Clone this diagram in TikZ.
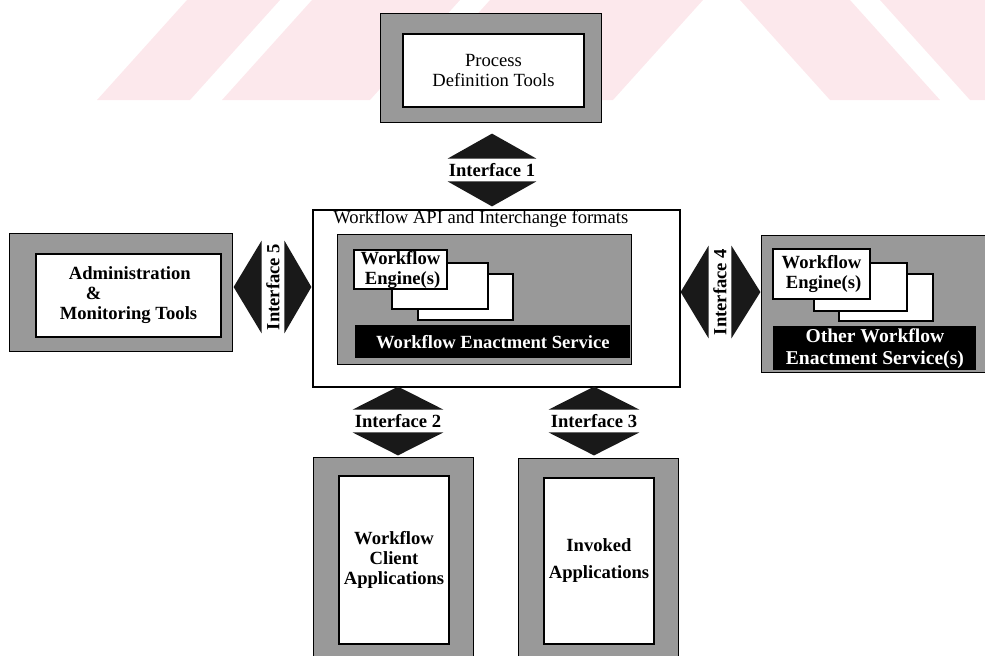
\documentclass[tikz,border=0pt]{standalone}
\usepackage{fontspec}
\setmainfont{Liberation Serif}
\definecolor{wmpink}{RGB}{252,232,236}

\begin{document}
\begin{tikzpicture}[x=0.5pt, y=-0.5pt, inner sep=0pt,
    font=\fontsize{9.3}{10}\selectfont\bfseries,
    frame/.style={draw, fill=black!40, line width=0.6pt, anchor=north west},
    panel/.style={draw, fill=white, line width=1pt, anchor=north west, align=center},
    bar/.style={fill=black, text=white, anchor=north west, align=center},
    iface/.style={minimum width=44pt, minimum height=11pt},
    tri/.style={fill=black!90}]
        \useasboundingbox (0,0) rectangle (985,655);

        % faint stripes behind the top
        \fill[wmpink] (187,0) -- (280,0) -- (190,100) -- (97,100) -- cycle;
        \fill[wmpink] (312,0) -- (460,0) -- (370,100) -- (222,100) -- cycle;
        \fill[wmpink] (490,0) -- (703,0) -- (613,100) -- (400,100) -- cycle;
        \fill[wmpink] (740,0) -- (850,0) -- (940,100) -- (830,100) -- cycle;
        \fill[wmpink] (880,0) -- (985,0) -- (985,100) -- (970,100) -- cycle;

        % process definition
        \node[frame, minimum width=110.5pt, minimum height=54.5pt] (pdtframe) at (380,13) {};
        \node[panel, minimum width=90.5pt, minimum height=36.5pt, font=\fontsize{9.3}{10}\selectfont] (pdt) at (402,33) {Process\\Definition Tools};

        \node[iface] (i1) at (492,170) {Interface 1};
        \fill[tri] (i1.north west) -- (i1.north east) -- ([yshift=12.5pt]i1.north) -- cycle;
        \fill[tri] (i1.south west) -- (i1.south east) -- ([yshift=-12.5pt]i1.south) -- cycle;

        % enactment service
        \node[draw, line width=1pt, anchor=north west, minimum width=183.5pt, minimum height=88.5pt] (api) at (312,209) {};
        \node[anchor=west, font=\fontsize{9.3}{10}\selectfont] (apititle) at (333,219) {Workflow API and Interchange formats};
        \node[frame, minimum width=147pt, minimum height=65pt] (wes) at (337,234) {};
        \node[panel, minimum width=47.5pt, minimum height=23pt] (eng3) at (417,273) {};
        \node[panel, minimum width=48pt, minimum height=23pt] (eng2) at (391,262) {};
        \node[panel, minimum width=46.5pt, minimum height=19.5pt, align=right] (eng1) at (353,249) {Workflow\\Engine(s)};
        \node[bar, minimum width=137.5pt, minimum height=16.5pt] (wesbar) at (355,325) {Workflow Enactment Service};

        % administration
        \node[frame, minimum width=111.5pt, minimum height=59pt] (admframe) at (9,233) {};
        \node[panel, minimum width=92.5pt, minimum height=41.5pt, align=left] (adm) at (35,253) {\hspace*{4.5pt}Administration\\\hspace*{13pt}\&\\Monitoring Tools};

        \node[iface, rotate=90, minimum width=46pt] (i5) at (273,287) {Interface 5};
        \fill[tri] (i5.north west) -- (i5.north east) -- ([xshift=-14pt]i5.north) -- cycle;
        \fill[tri] (i5.south west) -- (i5.south east) -- ([xshift=13.5pt]i5.south) -- cycle;

        % other enactment service
        \node[frame, minimum width=112pt, minimum height=68.5pt] (oframe) at (761,235) {};
        \node[panel, minimum width=47pt, minimum height=23.5pt] (oeng3) at (838,273) {};
        \node[panel, minimum width=46.5pt, minimum height=24pt] (oeng2) at (813,262) {};
        \node[panel, minimum width=48.5pt, minimum height=25pt, align=right] (oeng1) at (772,248) {Workflow\\Engine(s)};
        \node[bar, minimum width=101.5pt, minimum height=22pt, font=\fontsize{9.8}{11}\selectfont\bfseries] (obar) at (773,326) {Other Workflow\\Enactment Service(s)};

        \node[iface, rotate=90, minimum width=46pt] (i4) at (720,292) {Interface 4};
        \fill[tri] (i4.north west) -- (i4.north east) -- ([xshift=-14pt]i4.north) -- cycle;
        \fill[tri] (i4.south west) -- (i4.south east) -- ([xshift=14.5pt]i4.south) -- cycle;

        % applications
        \node[iface, minimum width=45pt] (i2) at (398,421) {Interface 2};
        \fill[tri] (i2.north west) -- (i2.north east) -- ([yshift=11.5pt]i2.north) -- cycle;
        \fill[tri] (i2.south west) -- (i2.south east) -- ([yshift=-11.5pt]i2.south) -- cycle;
        \node[iface, minimum width=45pt] (i3) at (594,421) {Interface 3};
        \fill[tri] (i3.north west) -- (i3.north east) -- ([yshift=11.5pt]i3.north) -- cycle;
        \fill[tri] (i3.south west) -- (i3.south east) -- ([yshift=-11.5pt]i3.south) -- cycle;

        \node[frame, minimum width=80pt, minimum height=100pt] (cliframe) at (313,457) {};
        \node[panel, minimum width=55pt, minimum height=84pt] (cli) at (338,475) {Workflow\\Client\\Applications};
        \node[frame, minimum width=80pt, minimum height=100pt] (invframe) at (518,458) {};
        \node[panel, minimum width=55pt, minimum height=83pt] (inv) at (543,477) {Invoked\\[3.5pt]Applications};
      \end{tikzpicture}
\end{document}
